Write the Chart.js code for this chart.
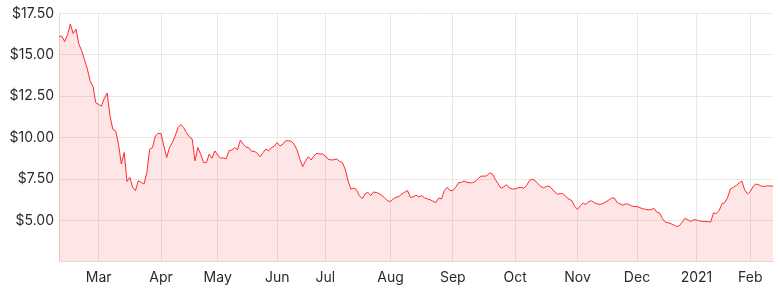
<!DOCTYPE html>
<html>
<head>
<meta charset="utf-8">
<script src="https://cdn.jsdelivr.net/npm/chart.js@4.4.1/dist/chart.umd.min.js"></script>
<style>
  html, body { margin: 0; padding: 0; background: #fff; }
  #wrap { width: 780px; height: 289px; }
</style>
</head>
<body>
<div id="wrap"><canvas id="priceChart"></canvas></div>
<script>
// daily closing price, one value per trading day (Feb 2020 - Feb 2021)
const prices = [
    16.12, 16.12, 15.8, 16.2, 16.86, 16.28, 16.55, 15.65, 15.25, 14.7,
    14.15, 13.4, 13.08, 12.1, 12.0, 11.9, 12.37, 12.69, 11.3, 10.5,
    10.4, 9.6, 8.41, 9.1, 7.35, 7.6, 7.0, 6.8, 7.4, 7.3,
    7.2, 7.9, 9.3, 9.4, 10.1, 10.25, 10.25, 9.5, 8.8, 9.4,
    9.7, 10.1, 10.6, 10.8, 10.6, 10.3, 10.05, 9.92, 8.6, 9.4,
    9.0, 8.5, 8.48, 9.0, 8.75, 9.2, 8.95, 8.75, 8.78, 8.72,
    9.21, 9.25, 9.4, 9.27, 9.85, 9.6, 9.43, 9.38, 9.17, 9.17,
    9.05, 8.85, 9.1, 9.31, 9.2, 9.4, 9.49, 9.7, 9.5, 9.6,
    9.81, 9.81, 9.78, 9.6, 9.25, 8.7, 8.25, 8.6, 8.85, 8.65,
    8.9, 9.05, 9.01, 9.01, 8.9, 8.7, 8.65, 8.66, 8.71, 8.57,
    8.5, 8.1, 7.4, 6.9, 6.95, 6.85, 6.5, 6.32, 6.6, 6.7,
    6.5, 6.72, 6.68, 6.62, 6.5, 6.35, 6.18, 6.15, 6.3, 6.4,
    6.44, 6.6, 6.7, 6.8, 6.4, 6.42, 6.52, 6.42, 6.5, 6.36,
    6.3, 6.25, 6.15, 6.08, 6.35, 6.3, 6.8, 7.0, 6.8, 6.8,
    7.0, 7.27, 7.3, 7.38, 7.3, 7.27, 7.28, 7.36, 7.54, 7.68,
    7.67, 7.7, 7.87, 7.8, 7.48, 7.2, 6.95, 7.03, 7.15, 6.95,
    6.9, 6.9, 6.97, 6.99, 6.94, 7.1, 7.4, 7.5, 7.4, 7.23,
    7.06, 6.97, 7.05, 7.08, 6.9, 6.71, 6.58, 6.63, 6.6, 6.42,
    6.28, 6.2, 5.85, 5.66, 5.9, 6.05, 5.96, 6.15, 6.18, 6.06,
    6.0, 5.97, 6.02, 6.12, 6.22, 6.35, 6.35, 6.08, 6.0, 5.92,
    6.0, 5.98, 5.88, 5.84, 5.84, 5.77, 5.71, 5.67, 5.64, 5.66,
    5.72, 5.5, 5.44, 5.1, 4.9, 4.86, 4.8, 4.73, 4.63, 4.7,
    4.9, 5.14, 5.03, 4.94, 5.04, 5.03, 4.98, 4.94, 4.94, 4.93,
    4.9, 5.45, 5.42, 5.6, 6.0, 6.08, 6.4, 6.9, 7.0, 7.1,
    7.25, 7.38, 6.85, 6.6, 6.75, 7.05, 7.2, 7.15, 7.06, 7.06,
    7.09, 7.08, 7.06
];

// first trading day of each month (index into prices) and its label
const monthIndex = [14, 36, 56, 77, 94, 117, 139, 161, 183, 204, 225, 244];
const monthLabels = ['Mar', 'Apr', 'May', 'Jun', 'Jul', 'Aug', 'Sep', 'Oct', 'Nov', 'Dec', '2021', 'Feb'];

const yTicks = [5, 7.5, 10, 12.5, 15, 17.5];
const yMin = 2.55;
const yMax = 17.5;

const gridColor = '#e8e8e8';
const textColor = '#2a2a2a';

const ctx = document.getElementById('priceChart').getContext('2d');

const chart = new Chart(ctx, {
    type: 'line',
    data: {
        datasets: [{
            label: 'Price',
            data: prices.map((v, i) => ({ x: i, y: v })),
            borderColor: '#ff2a2a',
            borderWidth: 1,
            backgroundColor: 'rgba(255, 60, 60, 0.13)',
            fill: 'start',
            pointRadius: 0,
            tension: 0
        }]
    },
    options: {
        responsive: true,
        maintainAspectRatio: false,
        animation: false,
        layout: {
            padding: { top: 4, right: 7, left: 0, bottom: 0 }
        },
        plugins: {
            legend: { display: false },
            tooltip: { enabled: false }
        },
        scales: {
            x: {
                type: 'linear',
                min: 0,
                max: prices.length - 1,
                afterBuildTicks: function (scale) {
                    scale.ticks = monthIndex.map(v => ({ value: v }));
                },
                afterFit: function (scale) {
                    scale.height = 28;
                },
                ticks: {
                    autoSkip: false,
                    maxRotation: 0,
                    padding: 8,
                    color: textColor,
                    font: { family: 'Inter', size: 14 },
                    callback: function (value) {
                        const k = monthIndex.indexOf(value);
                        return k >= 0 ? monthLabels[k] : '';
                    }
                },
                grid: {
                    color: gridColor,
                    drawTicks: false
                },
                border: { color: '#dddddd' }
            },
            y: {
                min: yMin,
                max: yMax,
                afterBuildTicks: function (scale) {
                    scale.ticks = yTicks.map(v => ({ value: v }));
                },
                afterFit: function (scale) {
                    scale.width = 59;
                },
                ticks: {
                    padding: 5,
                    color: textColor,
                    font: { family: 'Inter', size: 14 },
                    callback: function (value) {
                        return '$' + value.toFixed(2);
                    }
                },
                grid: {
                    color: gridColor,
                    drawTicks: false
                },
                border: { color: '#dddddd' }
            }
        }
    }
});
</script>
</body>
</html>
